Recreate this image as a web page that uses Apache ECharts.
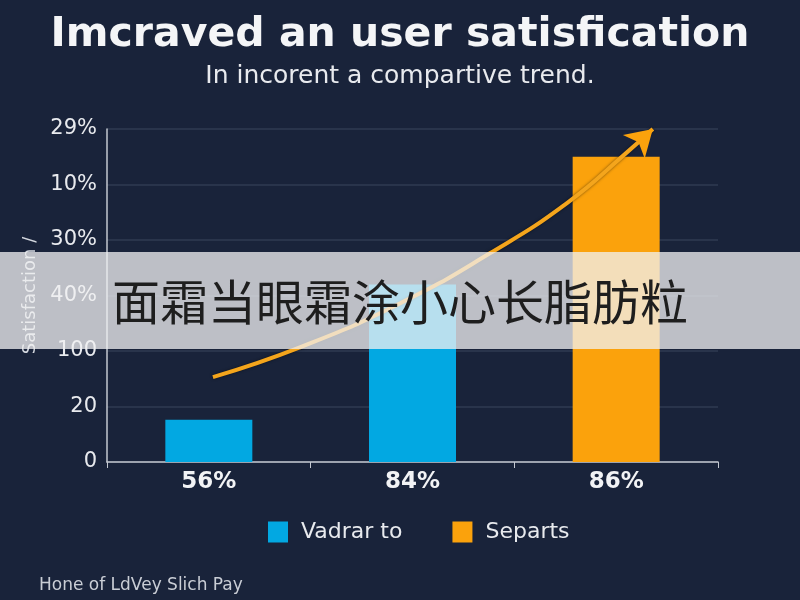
<!DOCTYPE html>
<html>
<head>
<meta charset="utf-8">
<script src="https://cdn.jsdelivr.net/npm/echarts@6/dist/echarts.min.js"></script>
<style>
  html, body { margin: 0; padding: 0; background: #19233a; }
  #chart { width: 800px; height: 600px; }
</style>
</head>
<body>
<div id="chart"></div>
<script>
  // ── Data ────────────────────────────────────────────────────────────────
  const categories = ['56%', '84%', '86%'];
  const yTickLabels = ['0', '20', '100', '40%', '30%', '10%', '29%'];
  const blueValues = [7.6, 32, null];
  const orangeValues = [null, null, 55];
  // trend arrow, [category position, value]
  const trendPoints = [
    [0.52, 15.3], [0.95, 20.7], [1.44, 28.6], [1.88, 37.6],
    [2.26, 46.7], [2.55, 55.7], [2.68, 60.0]
  ];

  const BLUE = '#02a8e2';
  const ORANGE = '#fba20c';
  const TEXT = '#e8eaee';
  const FONT = 'DejaVu Sans';

  const inst = echarts.init(document.getElementById('chart'));

  const trendData = trendPoints.map((p, i) => {
    if (i !== trendPoints.length - 1) return p;
    return { value: p, symbol: 'arrow', symbolSize: [24, 26], symbolRotate: -47, itemStyle: { color: ORANGE } };
  });

  inst.setOption({
    backgroundColor: '#19233a',
    animation: false,
    textStyle: { fontFamily: FONT },
    title: [
      {
        text: 'Imcraved an user satisfication', left: 'center', top: 10,
        textStyle: { color: '#f4f5f7', fontSize: 41, fontWeight: 'bold', fontFamily: FONT }
      },
      {
        text: 'In incorent a compartive trend.', left: 'center', top: 59,
        textStyle: { color: TEXT, fontSize: 25, fontWeight: 'normal', fontFamily: FONT }
      },
      {
        text: 'Hone of LdVey Slich Pay', left: 34, top: 572,
        textStyle: { color: '#c9cdd5', fontSize: 17, fontWeight: 'normal', fontFamily: FONT }
      }
    ],
    legend: {
      top: 516, left: 263, itemGap: 50, itemWidth: 20, itemHeight: 21,
      icon: 'rect',
      textStyle: { color: TEXT, fontSize: 22, padding: [0, 0, 0, 8] },
      data: ['Vadrar to', 'Separts']
    },
    grid: { left: 107, right: 82, top: 129, bottom: 138, containLabel: false, outerBoundsMode: 'none' },
    xAxis: [
      {
        type: 'category', data: categories,
        axisLine: { lineStyle: { color: '#c3c8d1', width: 1.5 } },
        axisTick: { show: true, length: 6, lineStyle: { color: '#c3c8d1' } },
        axisLabel: { color: '#f2f3f5', fontSize: 23, fontWeight: 'bold', margin: 9 }
      },
      { type: 'value', min: 0, max: 3, show: false }
    ],
    yAxis: {
      type: 'value', min: 0, max: 60, interval: 10,
      name: 'Satisfaction /', nameLocation: 'middle', nameRotate: 90, nameGap: 60,
      nameTextStyle: { color: '#d3d7de', fontSize: 18 },
      axisLine: { show: true, lineStyle: { color: '#c3c8d1', width: 1.5 } },
      axisTick: { show: false },
      axisLabel: {
        color: TEXT, fontSize: 21, margin: 10,
        formatter: (v) => yTickLabels[Math.round(v / 10)] ?? ''
      },
      splitLine: { lineStyle: { color: '#2f3b52', width: 1.5 } }
    },
    series: [
      {
        name: 'Vadrar to', type: 'bar', data: blueValues, barWidth: 87, barGap: '-100%',
        itemStyle: { color: BLUE }
      },
      {
        name: 'Separts', type: 'bar', data: orangeValues, barWidth: 87,
        itemStyle: { color: ORANGE }
      },
      {
        type: 'line', xAxisIndex: 1, data: trendData, smooth: true, clip: false,
        symbol: 'none', z: 5,
        lineStyle: { color: '#f4a51c', width: 4, shadowColor: 'rgba(0,0,0,0.5)', shadowBlur: 3 }
      }
    ],
    graphic: [
      {
        type: 'rect', z: 100,
        shape: { x: 0, y: 252, width: 800, height: 97 },
        style: { fill: 'rgba(240,240,242,0.76)' }
      },
      {
        type: 'text', z: 101, x: 400, y: 302,
        style: {
          text: '面霜当眼霜涂小心长脂肪粒', fill: '#1e1e1e',
          font: '48px "Noto Sans CJK SC"', textAlign: 'center', textVerticalAlign: 'middle'
        }
      }
    ]
  });
</script>
</body>
</html>
